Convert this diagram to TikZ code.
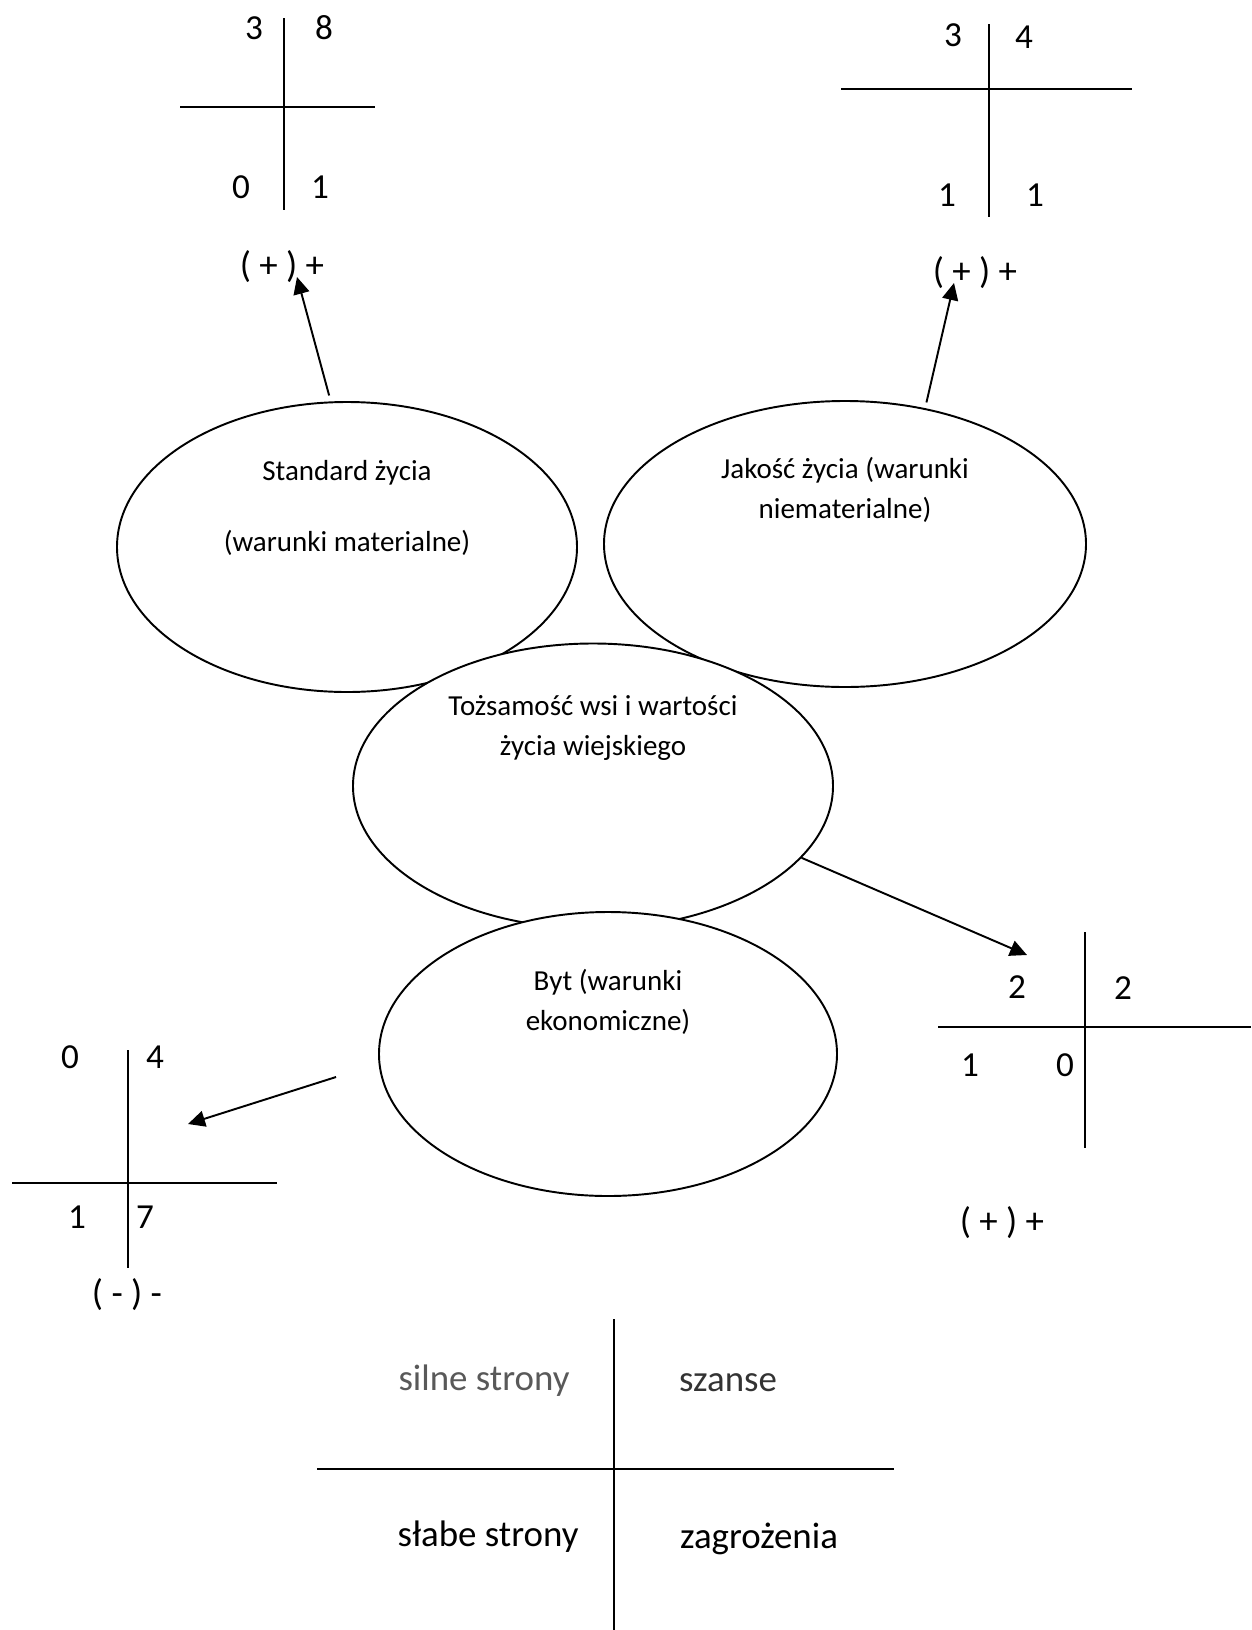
\documentclass[tikz,border=0pt]{standalone}
\usepackage{fontspec}
\setmainfont{Carlito}
\usetikzlibrary{shapes.geometric, arrows.meta, positioning}

\tikzset{
    ellipsebox/.style={draw, ellipse, fill=white, line width=1.1pt, inner sep=0pt},
    elltext/.style={align=center, inner sep=0pt, font=\fontsize{16.5}{23}\selectfont},
    score/.style={inner sep=0pt, font=\fontsize{20}{24}\selectfont},
    sign/.style={inner sep=0pt, font=\fontsize{21}{25}\selectfont},
    swot/.style={inner sep=0pt, font=\fontsize{21}{25}\selectfont},
    cross/.style={line width=1.4pt},
    link/.style={-{Triangle[length=3.4mm, width=3.2mm]}, line width=1.1pt},
}

\begin{document}
\begin{tikzpicture}[x=0.2mm, y=-0.2mm]
    \useasboundingbox (0,0) rectangle (1251,1630);

    % ellipses, later ones lie on top
    \node[ellipsebox, minimum width=92mm, minimum height=58mm]     (standard)  at (347,547)  {};
    \node[ellipsebox, minimum width=96.4mm, minimum height=57.2mm] (jakosc)    at (845,544)  {};
    \node[ellipsebox, minimum width=96mm, minimum height=57mm]     (tozsamosc) at (593,786)  {};
    \node[ellipsebox, minimum width=91.6mm, minimum height=56.8mm] (byt)       at (608,1054) {};

    \node[elltext] (standardtext)  at ([yshift=7.8mm]standard.center)   {Standard życia\\[17pt](warunki materialne)};
    \node[elltext] (jakosctext)    at ([yshift=10.8mm]jakosc.center)    {Jakość życia (warunki\\niematerialne)};
    \node[elltext] (tozsamosctext) at ([yshift=11.6mm]tozsamosc.center) {Tożsamość wsi i wartości\\życia wiejskiego};
    \node[elltext] (byttext)       at ([yshift=10.4mm]byt.center)       {Byt (warunki\\ekonomiczne)};

    % standard zycia
    \draw[cross] (284,18) -- (284,210);
    \draw[cross] (180,107) -- (375,107);
    \node[score] (std-tl) at (254,28)  {3};
    \node[score] (std-tr) at (324,28)  {8};
    \node[score] (std-bl) at (241,187) {0};
    \node[score] (std-br) at (320,187) {1};
    \node[sign]  (std-sign) at (282,267) {( + ) +};

    % jakosc zycia
    \draw[cross] (989,24) -- (989,217);
    \draw[cross] (841,89) -- (1132,89);
    \node[score] (jak-tl) at (953,35)   {3};
    \node[score] (jak-tr) at (1024,37)  {4};
    \node[score] (jak-bl) at (947,195)  {1};
    \node[score] (jak-br) at (1035,195) {1};
    \node[sign]  (jak-sign) at (975,273) {( + ) +};

    % tozsamosc wsi
    \draw[cross] (1085,932) -- (1085,1148);
    \draw[cross] (938,1027) -- (1251,1027);
    \node[score] (toz-tl) at (1017,987)  {2};
    \node[score] (toz-tr) at (1123,988)  {2};
    \node[score] (toz-bl) at (970,1065)  {1};
    \node[score] (toz-br) at (1065,1065) {0};
    \node[sign]  (toz-sign) at (1002,1223) {( + ) +};

    % byt
    \draw[cross] (128,1050) -- (128,1268);
    \draw[cross] (12,1183) -- (277,1183);
    \node[score] (byt-tl) at (70,1057)  {0};
    \node[score] (byt-tr) at (155,1057) {4};
    \node[score] (byt-bl) at (77,1217)  {1};
    \node[score] (byt-br) at (145,1217) {7};
    \node[sign]  (byt-sign) at (127,1295) {( - ) -};

    % arrows
    \draw[link] ([yshift=1.2mm]standard.97) -- ([xshift=3mm,yshift=-2mm]std-sign.center);
    \draw[link] ([yshift=1.2mm]jakosc.59)   -- ([xshift=-4.2mm,yshift=-2mm]jak-sign.center);
    \draw[link] (tozsamosc.-19)             -- ([xshift=2mm,yshift=6.4mm]toz-tl.center);
    \draw[link] ([xshift=-8.4mm,yshift=-4.6mm]byt.west) -- ([xshift=6.6mm,yshift=-13.4mm]byt-tr.center);

    % legend
    \draw[cross] (614,1319) -- (614,1630);
    \draw[cross] (317,1469) -- (894,1469);
    \node[swot, text=black!65] (silne)  at (484,1381) {silne strony};
    \node[swot, text=black!80] (szanse) at (728,1383) {szanse};
    \node[swot] (slabe)      at (488,1537) {słabe strony};
    \node[swot] (zagrozenia) at (759,1539) {zagrożenia};
\end{tikzpicture}
\end{document}
